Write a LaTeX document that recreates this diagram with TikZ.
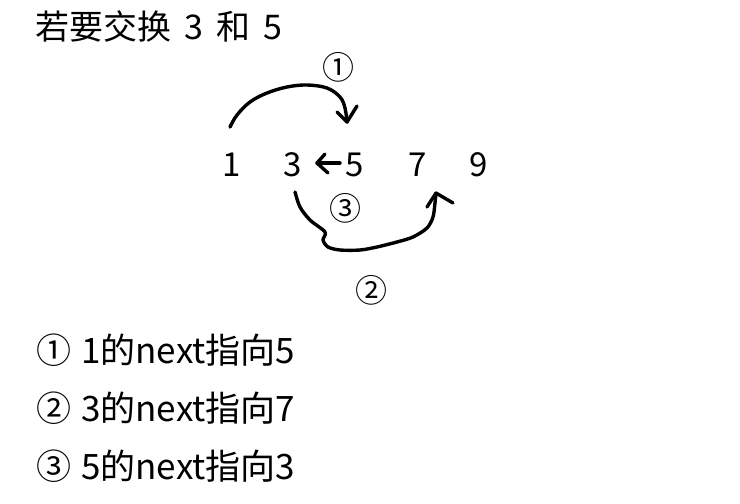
\documentclass[tikz,border=0pt]{standalone}
\usepackage{fontspec}
\setmainfont{Noto Sans CJK SC}
\begin{document}
\begin{tikzpicture}[x=1pt,y=-1pt,
  hand/.style={line width=3.4pt,line cap=round,line join=round},
  num/.style={anchor=base,inner sep=0pt,font=\fontsize{33}{36}\selectfont},
  circ/.style={inner sep=0pt,font=\fontsize{32}{34}\selectfont},
  item/.style={anchor=base west,inner sep=0pt,font=\fontsize{35}{38}\selectfont}]
\useasboundingbox[fill=white] (0,0) rectangle (740,504);
\node[anchor=base west,inner sep=0pt,font=\fontsize{34}{36}\selectfont] (title) at (35,39) {若要交换\hspace{13pt}3\hspace{13pt}和\hspace{13pt}5};
\node[num] (n1) at (232,176) {1};
\node[num] (n3) at (293,176) {3};
\node[num] (n5) at (355,176) {5};
\node[num] (n7) at (418,176) {7};
\node[num] (n9) at (479,176) {9};
\node[circ] (c1) at (338,67) {①};
\node[circ] (c3) at (345,208) {③};
\node[circ] (c2) at (371,290) {②};
% arrow 1
\coordinate (a1s) at (230,127);
\coordinate (a1t) at (347,122);
\draw[hand] plot[smooth,tension=0.6] coordinates {(230,127) (237,115) (250,102) (267,93) (287,87) (307,85) (327,88) (340,97) (345,108) (347,122)};
\draw[hand] (337,112) -- (a1t) -- (357,106);
% arrow 3
\coordinate (a3s) at (340,163);
\coordinate (a3t) at (317,163);
\draw[hand] (a3s) -- (a3t);
\draw[hand] (325,154) -- (a3t) -- (328,173);
% arrow 2
\coordinate (a2s) at (295,192);
\coordinate (a2t) at (436,193);
\draw[hand] plot[smooth,tension=0.5] coordinates {(295,192) (300,207) (310,220) (325,232) (323,240) (328,247) (340,250) (360,250) (377,247) (397,242) (413,237) (427,228) (433,217) (435,203) (436,193)};
\draw[hand] (427,207) -- (a2t) -- (453,203);
% list
\node[item] (l1) at (36,363) {①\hspace{10pt}1的next指向5};
\node[item] (l2) at (36,421) {②\hspace{10pt}3的next指向7};
\node[item] (l3) at (36,479) {③\hspace{10pt}5的next指向3};
\end{tikzpicture}
\end{document}
